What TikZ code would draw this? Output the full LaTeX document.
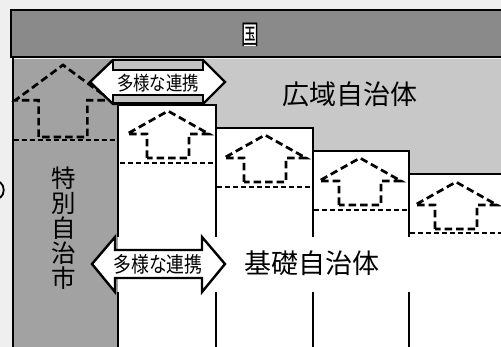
\documentclass[tikz,border=0pt]{standalone}
\usepackage{fontspec}
\newfontfamily\jp{Noto Sans CJK JP}
\definecolor{outerbg}{HTML}{EFEFEF}
\definecolor{bandgray}{HTML}{8A8A8A}
\definecolor{colgray}{HTML}{A2A2A2}
\definecolor{widegray}{HTML}{C8C8C8}
\definecolor{stripgray}{HTML}{C2C2C2}
\begin{document}
\begin{tikzpicture}[x=1pt,y=-1pt,line join=miter,
  frameline/.style={line width=2.6pt,black},
  thinframe/.style={line width=2pt,black},
  housedash/.style={line width=2.7pt,dash pattern=on 7.5pt off 4pt,black},
  leveldash/.style={line width=1.3pt,dash pattern=on 5pt off 3pt,black},
  arrowshape/.style={line width=2.4pt,black,fill=white},
  striprect/.style={line width=1.2pt,black,fill=stripgray},
  bigjp/.style={font=\jp\fontsize{27}{27}\selectfont,inner sep=0pt},
  housepic/.pic={\draw[housedash] (-21,47) -- (-21,23) -- (-41,23) -- (0,0) -- (41,23) -- (21,23) -- (21,47) -- cycle;}
]
\useasboundingbox (0,0) rectangle (501,347);
\fill[outerbg] (0,0) rectangle (501,347);
% top band
\fill[bandgray] (11,10) rectangle (501,57);
\draw[thinframe] (501,10) -- (11,10) -- (11,57) -- (501,57);
\fill[white] (243,24) rectangle (257,46);
\node[font=\jp\fontsize{27}{27}\selectfont,inner sep=0pt] (kuni) at (250,35) {\scalebox{0.66}[1]{国}};
% lower regions
\fill[colgray] (12,59) rectangle (118,347);
\fill[widegray] (118,59) rectangle (501,347);
\fill[white] (118,105) -| (216,128) -| (313,151) -| (409,174) -| (501,347) -| cycle;
% step outlines
\draw[frameline] (118,105) -- (216,105) (216,128) -- (313,128) (313,151) -- (409,151) (409,174) -- (501,174);
\draw[frameline] (216,104) -- (216,237) (216,292) -- (216,347);
\draw[frameline] (313,127) -- (313,237) (313,292) -- (313,347);
\draw[frameline] (409,150) -- (409,237) (409,292) -- (409,347);
\draw[frameline] (118,59) -- (118,237) (118,292) -- (118,347);
\draw[frameline] (13,57) -- (13,347);
% level dashed lines
\draw[leveldash] (14,140) -- (117,140);
\draw[leveldash] (120,163) -- (215,163);
\draw[leveldash] (217,187) -- (312,187);
\draw[leveldash] (314,210) -- (408,210);
\draw[leveldash] (410,233) -- (501,233);
% houses
\pic[xscale=1.16,yscale=1.53] at (63,65) {housepic};
\pic at (168,111) {housepic};
\pic at (265,135) {housepic};
\pic at (360,158) {housepic};
\pic at (456,182) {housepic};
% top double arrow
\draw[arrowshape] (90,82) -- (113,60) -- (203,60) -- (225,82) -- (203,104) -- (113,104) -- cycle;
\draw[striprect] (113,60) rectangle (203,70);
\draw[striprect] (113,95) rectangle (203,103);
\node[font=\jp\fontsize{19.5}{19.5}\selectfont,inner sep=0pt] (renkeiA) at (158,83) {\scalebox{0.84}[1]{多様な連携}};
% bottom double arrow
\draw[arrowshape] (92,264) -- (115,237) -- (115,250) -- (202,250) -- (202,237) -- (225,264) -- (202,292) -- (202,278) -- (115,278) -- (115,292) -- cycle;
\node[font=\jp\fontsize{21.5}{21.5}\selectfont,inner sep=0pt] (renkeiB) at (158,264) {\scalebox{0.83}[1]{多様な連携}};
% labels
\node[bigjp] (kouiki) at (350,94) {広域自治体};
\node[bigjp] (kiso) at (312,263) {基礎自治体};
\node[font=\jp\fontsize{24.5}{25}\selectfont,align=center,inner sep=0pt] (tokubetsu) at (64,228) {特\\別\\自\\治\\市};
% stray edge mark
\draw[line width=1.8pt] (0,182) .. controls (5,186) and (5,194) .. (0,198);
\end{tikzpicture}
\end{document}
